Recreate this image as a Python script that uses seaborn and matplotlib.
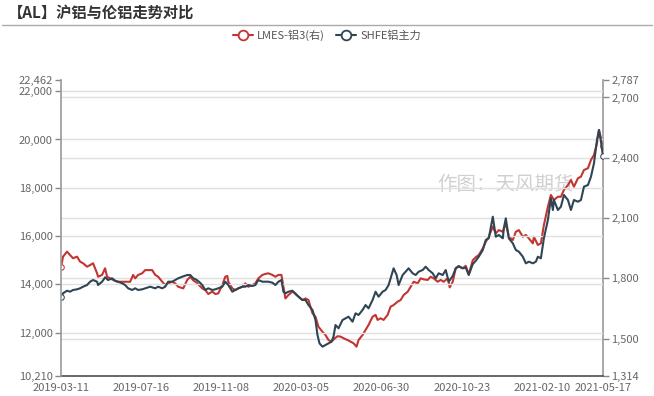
import numpy as np
import pandas as pd
import seaborn as sns
import matplotlib.pyplot as plt
from matplotlib.lines import Line2D
from matplotlib.ticker import FuncFormatter

sns.set_theme(style="white")
plt.rcParams['font.family'] = ['Noto Sans CJK SC', 'DejaVu Sans']

# category axis: trading-day index, labelled with dates
tick_labels = ["2019-03-11", "2019-07-16", "2019-11-08", "2020-03-05",
               "2020-06-30", "2020-10-23", "2021-02-10", "2021-05-17"]
n_days = 542

# SHFE aluminium main contract (left axis)
shfe_idx = [0, 2, 6, 9, 12, 16, 19, 22, 26, 29, 32, 36, 37, 41, 44, 47, 51, 54, 57, 61,
            64, 67, 71, 74, 77, 81, 84, 89, 94, 97, 101, 104, 107, 111, 114, 117, 121, 126, 129, 132,
            135, 138, 141, 144, 147, 151, 154, 157, 161, 164, 167, 171, 174, 177, 181, 184, 187, 191, 194, 197,
            201, 204, 207, 211, 214, 217, 220, 222, 224, 227, 231, 234, 237, 241, 244, 247, 251, 254, 256, 258,
            261, 264, 267, 270, 272, 274, 277, 281, 284, 287, 291, 294, 297, 301, 304, 307, 311, 314, 317, 321,
            324, 327, 332, 335, 337, 341, 344, 347, 351, 354, 357, 361, 364, 367, 371, 374, 377, 381, 384, 387,
            391, 394, 397, 401, 404, 407, 411, 414, 417, 421, 424, 427, 431, 434, 437, 441, 442, 444, 447, 451,
            454, 457, 461, 464, 467, 471, 474, 476, 479, 482, 486, 489, 491, 492, 496, 499, 502, 506, 509, 512,
            516, 519, 522, 526, 529, 532, 535, 537, 539, 541]
shfe_vals = [13493, 13633, 13741, 13699, 13770, 13798, 13840, 13906, 13976, 14113, 14183, 14113, 13976, 14113, 14295, 14183, 14254, 14154, 14113, 14047,
             13976, 13840, 13770, 13840, 13770, 13798, 13840, 13906, 13840, 13906, 13840, 13906, 14113, 14113, 14183, 14254, 14320, 14390, 14390, 14254,
             14200, 14100, 13976, 13770, 13840, 13770, 13798, 13840, 13906, 14113, 13976, 13699, 13770, 13840, 13906, 13906, 13976, 13935, 13976, 14183,
             14113, 14113, 14113, 14072, 13976, 14113, 14183, 13699, 13633, 13699, 13741, 13604, 13493, 13356, 13356, 13149, 12941, 12528, 11907, 11562,
             11423, 11493, 11562, 11631, 11837, 12321, 12184, 12528, 12598, 12665, 12457, 12805, 12735, 12942, 13149, 13011, 13356, 13699, 13493, 13699,
             13770, 13976, 14668, 14390, 13976, 14390, 14527, 14668, 14461, 14390, 14527, 14597, 14734, 14597, 14461, 14254, 14461, 14390, 14597, 14113,
             14350, 14668, 14762, 14668, 14700, 14390, 14840, 14980, 15148, 15425, 15839, 15909, 16803, 15976, 16046, 15909, 16323, 16737, 15909, 15702,
             15425, 15355, 15148, 14874, 14941, 14874, 14941, 15148, 15081, 15909, 16667, 17565, 17081, 17495, 17081, 17217, 17702, 17495, 17081, 17495,
             17424, 17495, 18045, 18115, 18459, 19014, 19978, 20392, 19908, 19300]

# LME 3-month aluminium (right axis)
lme_idx = [0, 2, 6, 9, 12, 16, 19, 22, 26, 29, 32, 36, 37, 41, 44, 46, 49, 52, 56, 61,
           64, 69, 72, 74, 77, 81, 84, 87, 91, 94, 97, 101, 104, 107, 111, 114, 117, 122, 126, 129,
           132, 135, 138, 141, 144, 147, 151, 154, 157, 161, 164, 166, 167, 171, 174, 177, 181, 184, 187, 191,
           194, 197, 201, 204, 207, 211, 214, 217, 220, 222, 224, 227, 231, 234, 237, 241, 244, 247, 251, 254,
           257, 261, 264, 267, 270, 273, 276, 279, 282, 286, 289, 292, 295, 297, 301, 304, 307, 311, 314, 316,
           319, 322, 326, 329, 332, 336, 339, 342, 346, 349, 352, 356, 359, 362, 366, 369, 372, 376, 379, 382,
           386, 388, 391, 394, 397, 401, 404, 407, 411, 414, 417, 421, 424, 427, 431, 434, 437, 441, 444, 447,
           451, 454, 457, 461, 464, 467, 471, 472, 476, 479, 482, 486, 489, 492, 496, 499, 502, 506, 509, 512,
           516, 519, 522, 526, 529, 532, 535, 537, 539, 541]
lme_vals = [1855, 1908, 1933, 1916, 1900, 1908, 1883, 1875, 1858, 1866, 1875, 1825, 1808, 1817, 1850, 1808, 1800, 1792, 1783, 1783,
            1783, 1783, 1817, 1800, 1817, 1825, 1841, 1841, 1841, 1817, 1808, 1783, 1767, 1775, 1783, 1775, 1758, 1750, 1792, 1808,
            1790, 1780, 1765, 1750, 1742, 1722, 1734, 1722, 1725, 1767, 1808, 1812, 1783, 1750, 1742, 1750, 1758, 1775, 1758, 1767,
            1775, 1800, 1817, 1822, 1825, 1817, 1808, 1817, 1817, 1758, 1700, 1717, 1734, 1725, 1709, 1692, 1700, 1692, 1626, 1609,
            1559, 1534, 1518, 1493, 1485, 1500, 1512, 1510, 1502, 1493, 1485, 1477, 1460, 1493, 1518, 1543, 1568, 1609, 1618, 1593,
            1601, 1593, 1618, 1659, 1667, 1684, 1692, 1717, 1733, 1758, 1783, 1775, 1800, 1795, 1792, 1808, 1800, 1783, 1792, 1783,
            1800, 1755, 1783, 1850, 1858, 1850, 1862, 1820, 1890, 1905, 1916, 1949, 1982, 2007, 2057, 2024, 2040, 2032, 2074, 2007,
            1991, 2032, 2040, 2007, 2016, 1999, 1974, 2007, 1966, 1974, 2065, 2156, 2215, 2190, 2206, 2206, 2240, 2264, 2289, 2256,
            2298, 2306, 2339, 2348, 2389, 2414, 2472, 2538, 2497, 2460]

left_lim = (10210, 22462)
right_lim = (1314, 2787)
left_ticks = [12000, 14000, 16000, 18000, 20000, 22000]
right_ticks = [1500, 1800, 2100, 2400, 2700]

red = "#c23531"
navy = "#2f4554"
grid_c = "#e0e0e0"
txt_c = "#666666"

fig = plt.figure(figsize=(6.54, 3.96), dpi=100)
ax = fig.add_axes([0.0933, 0.0505, 0.8287, 0.7475])   # LME, right scale
ax2 = ax.twinx()                                      # SHFE, left scale

for v in right_ticks:
    ax.axhline(v, color=grid_c, lw=1, zorder=0)
for v in left_ticks:
    ax2.axhline(v, color=grid_c, lw=1, zorder=0)

ax.text(0.668, 0.533, "作图：天风期货", transform=fig.transFigure, fontsize=14,
        color="#d0d0d0", va="center", ha="left", zorder=0.5)

sns.lineplot(x=lme_idx, y=lme_vals, ax=ax, color=red, lw=1.5, marker="o",
             markevery=[0, len(lme_vals) - 1], markersize=4,
             markerfacecolor="white", markeredgecolor=red, zorder=2)
sns.lineplot(x=shfe_idx, y=shfe_vals, ax=ax2, color=navy, lw=1.5, marker="o",
             markevery=[0, len(shfe_vals) - 1], markersize=4,
             markerfacecolor="white", markeredgecolor=navy, zorder=2)

fmt = FuncFormatter(lambda v, p: f"{v:,.0f}")

ax.set_xlim(0, n_days - 1)
ax.set_ylim(*right_lim)
ax2.set_ylim(*left_lim)

ax.yaxis.tick_right()
ax.set_yticks([right_lim[0]] + right_ticks + [right_lim[1]])
ax.yaxis.set_major_formatter(fmt)
ax2.yaxis.tick_left()
ax2.set_yticks([left_lim[0]] + left_ticks + [left_lim[1]])
ax2.yaxis.set_major_formatter(fmt)

tick_pos = [0, 80, 160, 240, 320, 400, 480, n_days - 1]
ax.set_xticks(tick_pos)
ax.set_xticklabels(tick_labels)

for a in (ax, ax2):
    a.set_xlabel("")
    a.set_ylabel("")
    a.tick_params(axis="both", labelsize=8, labelcolor=txt_c, colors="#888888",
                  length=4, width=1, direction="out", pad=2)
    a.spines["top"].set_visible(False)

ax.spines["left"].set_visible(False)
ax.spines["right"].set_color("#999999")
ax.spines["right"].set_linewidth(1.2)
ax.spines["bottom"].set_color("#555555")
ax2.spines["right"].set_visible(False)
ax2.spines["bottom"].set_visible(False)
ax2.spines["left"].set_color("#999999")
ax2.spines["left"].set_linewidth(1.2)
ax.tick_params(axis="x", colors="#555555", labelcolor=txt_c, pad=1)

# title and separator line
fig.text(0.012, 0.968, "【AL】沪铝与伦铝走势对比", fontsize=11, fontweight="bold",
         color="#333333", va="center", ha="left")
fig.add_artist(Line2D([0.003, 0.997], [0.937, 0.937], color="#aaaaaa", lw=1,
                      transform=fig.transFigure))

handles = [
    Line2D([], [], color=red, lw=1.5, marker="o", markersize=7,
           markerfacecolor="white", markeredgecolor=red, markeredgewidth=1.3),
    Line2D([], [], color=navy, lw=1.5, marker="o", markersize=7,
           markerfacecolor="white", markeredgecolor=navy, markeredgewidth=1.3),
]
fig.legend(handles, ["LMES-铝3(右)", "SHFE铝主力"], loc="center",
           bbox_to_anchor=(0.5, 0.91), ncol=2, frameon=False, fontsize=8,
           handlelength=1.8, handletextpad=0.4, columnspacing=1.0,
           labelcolor="#555555")

fig.savefig("out.png", dpi=100)
